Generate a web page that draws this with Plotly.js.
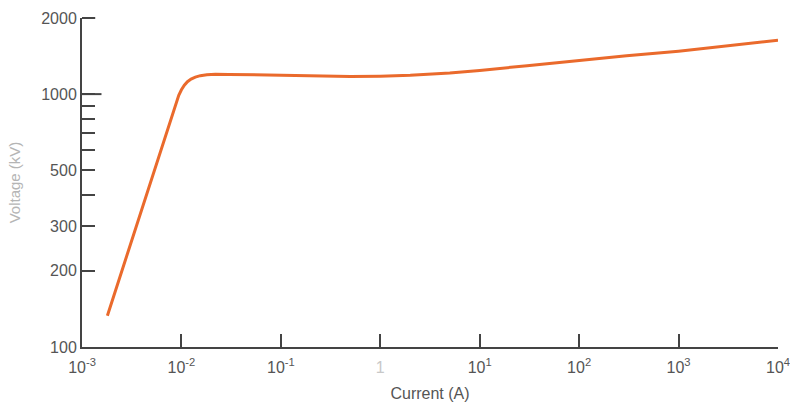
<!DOCTYPE html>
<html>
<head>
<meta charset="utf-8">
<script src="https://cdn.plot.ly/plotly-3.0.1.min.js"></script>
<style>html,body{margin:0;padding:0;background:#fff;}#chart{width:790px;height:402px;}</style>
</head>
<body>
<div id="chart"></div>
<script>
// Data (current in A, voltage in kV)
const current = [0.0018, 0.0094, 0.0100, 0.0107, 0.0115, 0.0125, 0.0138, 0.0155, 0.018, 0.022, 0.03, 0.05, 0.1, 0.2, 0.5, 1, 2, 5, 10, 30, 100, 300, 1000, 3000, 10000];
const voltage = [133, 990, 1040, 1085, 1120, 1147, 1168, 1183, 1193, 1198, 1197, 1192, 1183, 1176, 1174, 1178, 1188, 1212, 1240, 1296, 1362, 1418, 1479, 1550, 1633];

const xTickVals = [0.001, 0.01, 0.1, 1, 10, 100, 1000, 10000];
const xTickText = ['10<sup>-3</sup>', '10<sup>-2</sup>', '10<sup>-1</sup>', '<span style="color:#c8c8c8">1</span>', '10<sup>1</sup>', '10<sup>2</sup>', '10<sup>3</sup>', '10<sup>4</sup>'];
const yTickVals = [100, 200, 300, 500, 1000, 2000];
const yTickText = ['100', '200', '300', '500', '1000', '2000'];
const yMinorVals = [400, 600, 700, 800, 900];

const trace = {
  x: current, y: voltage, type: 'scatter', mode: 'lines',
  line: {color: '#ea6a2c', width: 3, shape: 'linear'},
  hoverinfo: 'skip', cliponaxis: false
};

const fam = '"Liberation Sans", Arial, sans-serif';

const layout = {
  width: 790, height: 402,
  margin: {l: 82, r: 12, t: 18, b: 55},
  paper_bgcolor: '#fff', plot_bgcolor: '#fff',
  showlegend: false,
  font: {family: fam, size: 16, color: '#444'},
  xaxis: {
    type: 'log', range: [-3, 4],
    tickmode: 'array', tickvals: xTickVals, ticktext: xTickText,
    ticks: 'inside', ticklen: 13, tickwidth: 2, tickcolor: '#444',
    showline: true, linecolor: '#444', linewidth: 2,
    showgrid: false, zeroline: false,
    ticklabelstandoff: 5,
    ticklabeloverflow: 'allow',
    tickfont: {family: fam, size: 16, color: '#555'},
    title: {text: 'Current (A)', font: {family: fam, size: 16, color: '#555'}, standoff: 15}
  },
  yaxis: {
    type: 'log', range: [2, Math.log10(2000)],
    tickmode: 'array', tickvals: yTickVals, ticktext: yTickText,
    ticks: 'inside', ticklen: 13, tickwidth: 2, tickcolor: '#444',
    minor: {tickmode: 'array', tickvals: yMinorVals, ticks: 'inside', ticklen: 13, tickwidth: 2, tickcolor: '#444', showgrid: false},
    showline: true, linecolor: '#444', linewidth: 2,
    showgrid: false, zeroline: false,
    ticklabeloverflow: 'allow',
    tickfont: {family: fam, size: 16, color: '#555'},
    title: {text: 'Voltage (kV)', font: {family: fam, size: 15, color: '#b5b5b5'}, standoff: 17}
  },
  shapes: [
    {type: 'line', xref: 'paper', yref: 'y', x0: 0, x1: 0.028, y0: 1000, y1: 1000, line: {color: '#444', width: 2}},
    {type: 'line', xref: 'paper', yref: 'paper', x0: 0, x1: 0.019, y0: 1, y1: 1, line: {color: '#444', width: 2}}
  ]
};

Plotly.newPlot('chart', [trace], layout, {displayModeBar: false, staticPlot: true});
</script>
</body>
</html>
